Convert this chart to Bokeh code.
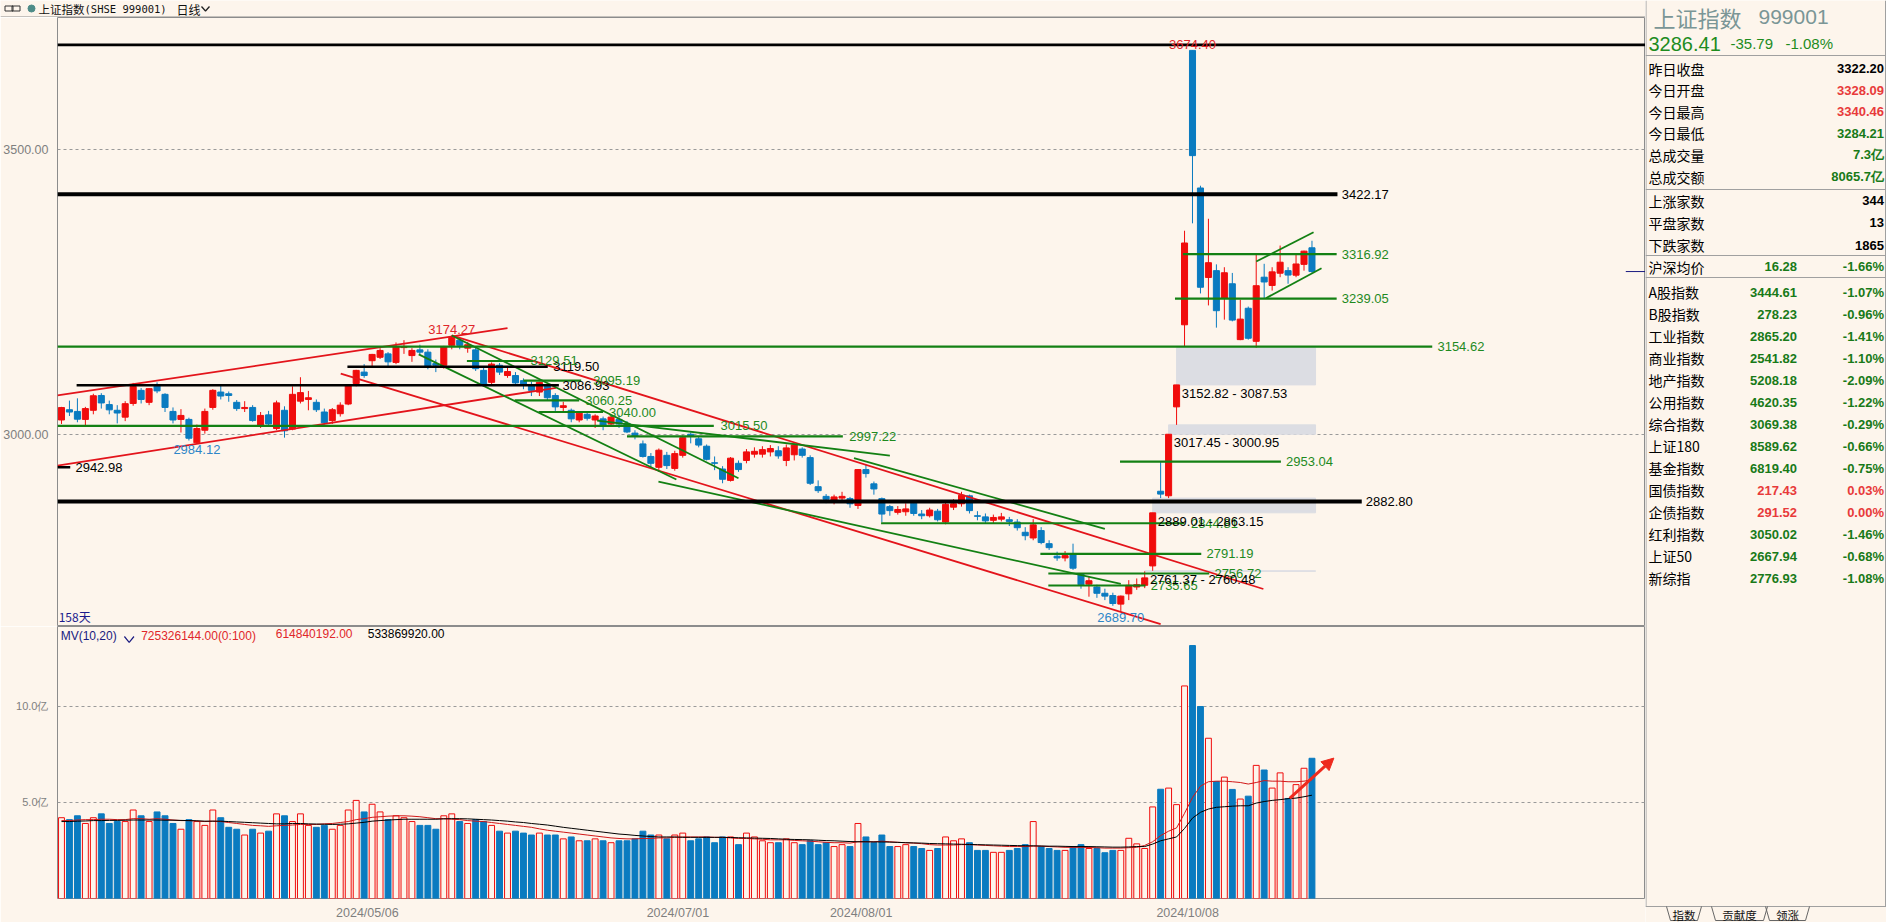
from bokeh.plotting import figure
from bokeh.layouts import row, column
from bokeh.models import Range1d, FixedTicker, ColumnDataSource, Arrow, NormalHead, PrintfTickFormatter
from bokeh.embed import file_html
from bokeh.resources import INLINE
from bokeh.core.properties import value

# ---------------- data ----------------
opens = [3026, 3044, 3041, 3027, 3043, 3069, 3053, 3043, 3031, 3055,
         3078, 3057, 3087, 3071, 3041, 3027, 3027, 2986, 3008, 3048,
         3075, 3072, 3057, 3046, 3048, 3016, 3035, 3011, 3043, 3010,
         3059, 3062, 3057, 3040, 3025, 3037, 3054, 3090, 3110, 3130,
         3136, 3142, 3127, 3153, 3139, 3149, 3145, 3125, 3122, 3157,
         3166, 3152, 3149, 3113, 3092, 3122, 3104, 3104, 3095, 3087,
         3075, 3086, 3069, 3048, 3043, 3026, 3036, 3026, 3028, 3019,
         3027, 3020, 3003, 2984, 2962, 2943, 2964, 2941, 2964, 3001,
         2993, 2980, 2951, 2940, 2920, 2950, 2955, 2966, 2966, 2970,
         2972, 2955, 2965, 2975, 2960, 2909, 2892, 2885, 2889, 2888,
         2876, 2939, 2914, 2888, 2874, 2864, 2865, 2880, 2861, 2858,
         2866, 2847, 2873, 2879, 2893, 2858, 2856, 2850, 2852, 2851,
         2847, 2829, 2819, 2832, 2809, 2787, 2784, 2791, 2756, 2738,
         2733, 2722, 2718, 2703, 2721, 2733, 2736, 2770, 2901, 2893,
         3049, 3193, 3674.40, 3433, 3276, 3288, 3240, 3265, 3167, 3222,
         3164, 3276.5, 3262, 3283.5, 3288, 3280, 3299, 3328.09]
highs = [3049, 3060, 3064, 3049, 3072, 3073, 3060, 3052, 3059, 3091,
         3082, 3082, 3092, 3073, 3048, 3045, 3030, 3018, 3046, 3080,
         3086, 3076, 3061, 3059, 3052, 3040, 3042, 3060, 3050, 3085,
         3101, 3077, 3062, 3046, 3047, 3057, 3089, 3114, 3124, 3142,
         3152, 3145, 3162, 3166, 3152, 3158, 3150, 3132, 3156, 3174.27,
         3170, 3163, 3154, 3118, 3127, 3126, 3118, 3110, 3099, 3093,
         3093, 3089, 3073, 3058, 3046, 3040, 3040, 3036, 3032, 3033,
         3035, 3024, 3008, 2990, 2968, 2976, 2970, 2972, 2999, 3004,
         2997, 2983, 2962, 2945, 2961, 2955, 2975, 2978, 2980, 2982,
         2980, 2983, 2985, 2978, 2964, 2920, 2896, 2895, 2900, 2891,
         2940, 2948, 2918, 2890, 2877, 2875, 2880, 2884, 2868, 2872,
         2870, 2881, 2887, 2900, 2895, 2866, 2862, 2860, 2863, 2856,
         2852, 2838, 2852, 2838, 2815, 2795, 2796, 2809, 2757, 2751,
         2737, 2730, 2723, 2718, 2745, 2748, 2760.48, 2863.15, 2952, 3000.95,
         3087.53, 3358, 3674.40, 3437, 3379, 3299, 3294, 3284, 3237, 3225,
         3316, 3300, 3294, 3332, 3294, 3317, 3323, 3340.46]
lows = [3019, 3033, 3022, 3016, 3036, 3046, 3036, 3020, 3024, 3051,
        3055, 3052, 3073, 3040, 3020, 3004, 2990, 2984.12, 3002, 3044,
        3062, 3058, 3042, 3040, 3023, 3012, 3014, 3008, 2995, 3008,
        3055, 3043, 3040, 3018, 3019, 3032, 3052, 3085, 3100, 3120,
        3133, 3120, 3124, 3142, 3128, 3141, 3115, 3110, 3116, 3150,
        3150, 3144, 3112, 3085, 3088, 3105, 3100, 3088, 3080, 3068,
        3068, 3060, 3042, 3040, 3022, 3022, 3025, 3012, 3008, 3014,
        3012, 3003, 2992, 2960, 2943, 2935, 2940, 2937, 2960, 2985,
        2978, 2955, 2938, 2915, 2918, 2935, 2950, 2960, 2960, 2962,
        2958, 2945, 2955, 2960, 2912, 2898, 2880, 2878, 2884, 2872,
        2870, 2925, 2895, 2847, 2858, 2860, 2858, 2858, 2852, 2855,
        2848, 2843, 2868, 2874, 2862, 2850, 2845, 2845, 2848, 2840,
        2832, 2815, 2815, 2808, 2798, 2779, 2778, 2763, 2730, 2716,
        2714, 2710, 2700, 2689.70, 2710, 2728, 2731, 2761.37, 2889.01, 2889,
        3017.45, 3154, 3371, 3248, 3227, 3188, 3202, 3199, 3166, 3167,
        3152.82, 3239, 3253, 3276.5, 3265, 3276.5, 3288, 3284.21]
closes = [3047.8, 3039.9, 3027.4, 3046.0, 3068.5, 3055.9, 3043.8, 3038.2, 3054.6, 3084.9,
          3062, 3081, 3077, 3048, 3026, 3034, 2994, 3011, 3041, 3078,
          3068, 3069, 3046, 3048, 3025, 3034, 3019, 3056, 3007, 3071,
          3074, 3065, 3044, 3021, 3044, 3052, 3088, 3113, 3104, 3141,
          3148, 3128, 3154, 3155, 3148, 3145, 3120, 3122, 3154, 3171,
          3157, 3158, 3116, 3089, 3124, 3110, 3111, 3091, 3087, 3078,
          3092, 3065, 3049, 3051, 3028, 3038, 3029, 3033, 3015, 3031,
          3019, 3005, 2998, 2962, 2950, 2973, 2946, 2967, 2995, 2997,
          2982, 2957, 2950, 2922, 2959, 2939, 2970, 2971, 2974, 2976,
          2963, 2977, 2982, 2964, 2915, 2902, 2887, 2891, 2892, 2879,
          2939, 2932, 2905, 2861, 2867, 2869, 2870, 2862, 2858, 2868,
          2851, 2878, 2879, 2894, 2867, 2857, 2849, 2855, 2856, 2848,
          2837, 2823, 2842, 2811, 2802, 2784, 2788, 2766, 2737, 2744,
          2722, 2717, 2704, 2717, 2736, 2737, 2749, 2863.13, 2896, 3000.95,
          3087.53, 3336.5, 3489.78, 3258.86, 3301.93, 3217.74, 3284.32, 3201.29, 3202.95, 3169.38,
          3261.56, 3268.11, 3285.87, 3302.80, 3280.26, 3299.70, 3322.20, 3286.41]
volumes = [4.2, 4.1, 4.3, 3.9, 4.2, 4.4, 3.9, 4.0, 4.0, 4.6,
           4.3, 4.0, 4.5, 4.3, 3.9, 3.6, 4.1, 4.0, 3.8,
           4.6, 4.2, 3.7, 3.6, 3.3, 3.6, 3.4, 3.5,
           4.4, 4.3, 4.0, 4.4, 3.8, 3.7, 3.8, 3.6, 3.8, 4.6, 5.1, 4.5,
           4.9, 4.5, 4.1, 4.3, 4.2, 4.0, 3.8, 3.8, 3.6, 4.3, 4.4, 4.0, 3.9,
           4.1, 4.0, 3.8, 3.5, 3.4, 3.5, 3.4, 3.3, 3.4, 3.3, 3.3, 3.1,
           3.2, 3.0, 3.0, 3.1, 3.0, 2.9, 3.0, 3.0, 3.1, 3.5, 3.3, 3.3, 3.1, 3.3,
           3.4, 3.0, 3.1, 3.2, 2.9, 3.2, 3.2, 2.8, 3.4, 3.2, 3.0, 2.9, 2.9, 3.1, 2.9, 2.8, 3.0, 2.8, 2.9, 2.7, 2.8, 2.7,
           3.9, 3.2, 2.9, 3.3, 2.7, 2.7, 2.8, 2.7, 2.6, 2.5, 2.6, 3.2, 3.0, 3.1, 2.9, 2.5, 2.5, 2.4, 2.4, 2.5, 2.6, 2.8, 4.0,
           2.7, 2.6, 2.5, 2.5, 2.7, 2.8, 2.6, 2.6, 2.38, 2.5,
           2.5, 3.13, 2.84, 2.6, 4.76, 5.68, 5.74, 4.88, 11.05, 13.15, 9.98, 8.33, 6.08, 6.31,
           5.67, 5.17, 5.32, 6.92, 6.68, 5.74, 6.53, 5.2, 5.92, 6.77, 7.29]
vol_ma10 = [4.05, 4.05, 4.08, 4.1, 4.1, 4.12, 4.12, 4.1, 4.1, 4.15,
            4.15, 4.12, 4.15, 4.12, 4.08, 4.05, 4.05, 4.02, 4.0, 4.02,
            4.0, 3.95, 3.9, 3.85, 3.8, 3.78, 3.75, 3.78, 3.8, 3.82,
            3.85, 3.85, 3.85, 3.88, 3.9, 3.95, 4.0, 4.1, 4.15, 4.22,
            4.25, 4.28, 4.3, 4.3, 4.28, 4.25, 4.2, 4.15, 4.15, 4.12,
            4.1, 4.05, 4.02, 4.0, 3.95, 3.9, 3.85, 3.8, 3.75, 3.7,
            3.62, 3.55, 3.5, 3.45, 3.4, 3.35, 3.3, 3.25, 3.2, 3.15,
            3.12, 3.1, 3.1, 3.12, 3.12, 3.15, 3.15, 3.18, 3.2, 3.2,
            3.2, 3.2, 3.18, 3.18, 3.15, 3.12, 3.12, 3.1, 3.08, 3.05,
            3.05, 3.05, 3.02, 3.0, 2.98, 2.95, 2.92, 2.9, 2.9, 2.88,
            2.95, 2.95, 2.95, 2.98, 2.95, 2.92, 2.9, 2.88, 2.85, 2.8,
            2.78, 2.78, 2.78, 2.8, 2.8, 2.78, 2.76, 2.74, 2.72, 2.7,
            2.7, 2.7, 2.72, 2.72, 2.7, 2.68, 2.66, 2.66, 2.66, 2.65,
            2.64, 2.62, 2.62, 2.62, 2.64, 2.66, 2.76,
            2.95, 3.27, 3.5, 3.67, 4.43, 5.25, 5.84, 6.07, 6.1, 6.1,
            6.07, 6.03, 5.95, 6.03, 6.13, 6.1, 6.1, 6.07, 6.07, 6.1, 6.17]
vol_ma20 = [4.0, 4.0, 4.02, 4.03, 4.05, 4.05, 4.06, 4.06, 4.07, 4.08,
            4.08, 4.08, 4.08, 4.07, 4.07, 4.06, 4.05, 4.04, 4.02, 4.02,
            4.02, 4.0, 3.98, 3.96, 3.94, 3.92, 3.9, 3.88, 3.88, 3.9,
            3.9, 3.88, 3.87, 3.86, 3.85, 3.86, 3.88, 3.92, 3.96, 4.02,
            4.05, 4.08, 4.1, 4.12, 4.12, 4.12, 4.12, 4.12, 4.14, 4.15,
            4.15, 4.14, 4.12, 4.1, 4.08, 4.05, 4.02, 3.98, 3.95, 3.9,
            3.86, 3.82, 3.76, 3.7, 3.65, 3.6, 3.55, 3.5, 3.45, 3.4,
            3.35, 3.32, 3.28, 3.25, 3.22, 3.2, 3.2, 3.2, 3.18, 3.18,
            3.18, 3.18, 3.18, 3.18, 3.17, 3.16, 3.15, 3.14, 3.13, 3.12,
            3.1, 3.08, 3.07, 3.06, 3.05, 3.03, 3.01, 3.0, 2.98, 2.96,
            2.95, 2.95, 2.94, 2.94, 2.93, 2.92, 2.9, 2.89, 2.88, 2.86,
            2.85, 2.84, 2.83, 2.82, 2.81, 2.8, 2.79, 2.78, 2.77, 2.76,
            2.75, 2.74, 2.74, 2.73, 2.72, 2.72, 2.71, 2.7, 2.7, 2.7,
            2.69, 2.68, 2.67, 2.67, 2.68, 2.7, 2.7,
            2.83, 3.0, 3.1, 3.2, 3.64, 4.18, 4.48, 4.65, 4.74, 4.77,
            4.8, 4.82, 4.82, 4.96, 5.04, 5.1, 5.14, 5.19, 5.22, 5.29, 5.37]

tick_index = [39, 78, 101, 142]
tick_labels = ["2024/05/06", "2024/07/01", "2024/08/01", "2024/10/08"]

# horizontal levels drawn on the chart (price, from bar, to bar)
level_price = [3684.0, 3422.17, 2882.80, 3119.50, 3086.93, 2942.98,
               3154.62, 3316.92, 3239.05, 3129.51, 3095.19, 3060.25, 3040.00,
               3015.50, 2997.22, 2953.04, 2844.81, 2791.19, 2756.72, 2735.65]
level_from = [-0.5, -0.5, -0.5, 35.9, 1.9, -0.5,
              -0.5, 140.8, 139.8, 50.9, 58.0, 56.9, 59.9,
              -0.5, 71.0, 132.9, 102.9, 122.9, 123.9, 123.9]
level_to = [199.0, 160.2, 163.25, 61.05, 62.45, 1.1,
            172.1, 160.1, 160.1, 59.25, 65.25, 65.0, 68.0,
            81.9, 98.1, 153.1, 141.0, 143.1, 144.1, 136.1]
level_kind = ["k3", "k4", "k4", "k2", "k2", "k3",
              "g", "g", "g", "g", "g", "g", "g",
              "g", "g", "g", "g", "g", "g", "g"]
level_label_at = [None, 160.75, 163.75, 61.75, 62.9, 1.75,
                  172.75, 160.75, 160.75, 58.9, 66.75, 65.75, 68.75,
                  82.75, 98.9, 153.75, 141.8, 143.75, 144.75, 136.75]

# unfilled gaps (upper, lower, first bar)
gap_upper = [3152.82, 3017.45, 2889.01, 2761.37]
gap_lower = [3087.53, 3000.95, 2863.15, 2760.48]
gap_from = [140, 139, 137, 136]

# trend lines (bar, price) -> (bar, price)
trend_x0 = [-0.5, -0.5, 49.0, 35.06, 49.0, 44.85, 67.25, 74.95, 99.5, 150.0, 151.2]
trend_y0 = [3069.0, 2946.0, 3174.27, 3107.5, 3174.27, 3141.2, 3025.0, 2918.0, 2959.0, 3304.0, 3239.6]
trend_x1 = [56.0, 62.1, 150.9, 138.0, 85.0, 77.2, 104.0, 133.0, 131.0, 157.2, 158.2]
trend_y1 = [3187.0, 3082.5, 2729.5, 2668.0, 2923.9, 2921.6, 2963.6, 2738.6, 2835.0, 3355.4, 3292.3]
trend_kind = ["r", "r", "r", "r", "g", "g", "g", "g", "g", "g", "g"]

# high / low markers (bar, price, above?)
mark_index = [142, 49, 17, 133]
mark_price = [3674.40, 3174.27, 2984.12, 2689.70]
mark_above = [True, True, False, False]

vol_legend = ["725326144.00(0:100)", "614840192.00", "533869920.00"]

header_name = "上证指数"
header_code = "(SHSE 999001)"
header_period = "日线"
quote_title = "上证指数"
quote_code = "999001"
quote_last = "3286.41"
quote_chg = "-35.79"
quote_pct = "-1.08%"
info_names = ["昨日收盘", "今日开盘", "今日最高", "今日最低", "总成交量", "总成交额"]
info_values = ["3322.20", "3328.09", "3340.46", "3284.21", "7.3亿", "8065.7亿"]
info_tone = ["k", "r", "r", "g", "g", "g"]
breadth_names = ["上涨家数", "平盘家数", "下跌家数"]
breadth_values = ["344", "13", "1865"]
avg_name = "沪深均价"
avg_value = "16.28"
avg_pct = "-1.66%"
index_names = ["A股指数", "B股指数", "工业指数", "商业指数", "地产指数", "公用指数", "综合指数",
               "上证180", "基金指数", "国债指数", "企债指数", "红利指数", "上证50", "新综指"]
index_values = ["3444.61", "278.23", "2865.20", "2541.82", "5208.18", "4620.35", "3069.38",
                "8589.62", "6819.40", "217.43", "291.52", "3050.02", "2667.94", "2776.93"]
index_pcts = ["-1.07%", "-0.96%", "-1.41%", "-1.10%", "-2.09%", "-1.22%", "-0.29%",
              "-0.66%", "-0.75%", "0.03%", "0.00%", "-1.46%", "-0.68%", "-1.08%"]
tab_names = ["指数", "贡献度", "领涨"]

# ---------------- styling ----------------
BG = "#FDF5EC"
RED = "#F00C0C"
BLUE = "#0A7BC0"
GREEN_LINE = "#138013"
GREEN_TXT = "#1E8A1E"
TREND_RED = "#E3141B"
GRID = "#9A9A9A"
FRAME = "#8C8C8C"
NUMFONT = "Liberation Sans"
CJK = "Noto Sans CJK SC"

AXIS_W = 50
LEFT_W = 1645
RIGHT_W = 241
HEAD_H = 17
PRICE_H = 609
VOL_AXIS_H = 16
VOL_H = 280 + VOL_AXIS_H
TOTAL_H = HEAD_H + PRICE_H + VOL_H
XR = (-0.5, 198.875)
P_LO, P_HI = 2663.7, 3732.1
V_HI = 14.14
DATE_SHIFT = 0.6   # date labels sit a little left of their bar


def txt(fig, xs, ys, texts, color, size, font=NUMFONT, align="left", baseline="middle",
        bold=False, y_off=0):
    fig.text(x=xs, y=ys, text=texts, text_color=color, text_font=value(font),
             text_font_size=value(size), text_align=align, text_baseline=baseline,
             text_font_style="bold" if bold else "normal", y_offset=y_off)


def bare(fig):
    fig.xgrid.visible = False
    fig.ygrid.visible = False
    fig.background_fill_color = BG
    fig.border_fill_color = BG
    fig.outline_line_color = None


n = len(closes)
xs = list(range(n))
up = [c > o for o, c in zip(opens, closes)]
col = [RED if u else BLUE for u in up]

# ---------------- header ----------------
h = figure(width=LEFT_W, height=HEAD_H, x_range=Range1d(0, LEFT_W), y_range=Range1d(HEAD_H, 0),
           output_backend="svg", toolbar_location=None, x_axis_location=None, y_axis_location=None,
           min_border=0, min_border_left=0, min_border_right=0, min_border_top=0, min_border_bottom=0)
bare(h)
h.rect(x=[8.5, 15.5], y=[8, 8], width=8, height=5, fill_color=None, line_color="#333333", line_width=1)
h.scatter(x=[31], y=[8], size=7, fill_color="#4E8C88", line_color="#4E8C88")
txt(h, [38], [8.5], [header_name], "#111111", "11.5px", font=CJK)
txt(h, [84], [8.5], [header_code], "#111111", "10.5px", font="DejaVu Sans Mono")
txt(h, [176], [8.5], [header_period], "#111111", "12px", font=CJK)
h.line(x=[201, 205, 209], y=[6, 10.5, 6], line_color="#222222", line_width=1.3)
h.line(x=[0, LEFT_W], y=[HEAD_H - 0.5, HEAD_H - 0.5], line_color=FRAME, line_width=1)

# ---------------- price panel ----------------
p = figure(width=LEFT_W, height=PRICE_H, x_range=Range1d(*XR), y_range=Range1d(P_LO, P_HI),
           output_backend="svg", toolbar_location=None, x_axis_location=None,
           min_border_left=AXIS_W, min_border_right=0, min_border_top=0, min_border_bottom=0)
p.background_fill_color = BG
p.border_fill_color = BG
p.outline_line_color = FRAME
p.xgrid.visible = False
p.yaxis.ticker = FixedTicker(ticks=[3000, 3500])
p.yaxis.formatter = PrintfTickFormatter(format="%.2f")
p.yaxis.axis_line_color = None
p.yaxis.major_tick_line_color = None
p.yaxis.minor_tick_line_color = None
p.yaxis.major_label_text_color = "#7F7F7F"
p.yaxis.major_label_text_font = NUMFONT
p.yaxis.major_label_text_font_size = "12.5px"
p.yaxis.major_label_standoff = 3
p.ygrid.grid_line_color = GRID
p.ygrid.grid_line_dash = "3 3"
p.ygrid.grid_line_width = 1

# gaps
p.quad(left=gap_from, right=[157.45] * len(gap_from), bottom=gap_lower, top=gap_upper,
       fill_color="#DCDDE3", line_color="#DCDDE3", line_width=1)

# candles
csrc = ColumnDataSource(dict(x=xs, o=opens, h=highs, l=lows, c=closes,
                             top=[max(a, b) for a, b in zip(opens, closes)],
                             bot=[min(a, b) for a, b in zip(opens, closes)], col=col))
p.segment(x0="x", y0="l", x1="x", y1="h", line_color="col", line_width=1, source=csrc)
p.vbar(x="x", width=0.76, top="top", bottom="bot", fill_color="col", line_color="col", source=csrc)

# trend lines
tcol = [TREND_RED if k == "r" else GREEN_LINE for k in trend_kind]
p.segment(x0=trend_x0, y0=trend_y0, x1=trend_x1, y1=trend_y1, line_color=tcol, line_width=1.8)

# level lines
lw = {"k4": 4, "k3": 2.6, "k2": 2.4, "g": 2.2}
lc = {"k4": "#000000", "k3": "#000000", "k2": "#000000", "g": GREEN_LINE}
p.segment(x0=level_from, y0=level_price, x1=level_to, y1=level_price,
          line_color=[lc[k] for k in level_kind], line_width=[lw[k] for k in level_kind])
lab_x, lab_y, lab_t, lab_c = [], [], [], []
for pr, lx, k in zip(level_price, level_label_at, level_kind):
    if lx is None:
        continue
    lab_x.append(lx)
    lab_y.append(pr)
    lab_t.append("%.2f" % pr)
    lab_c.append("#000000" if k != "g" else GREEN_TXT)
p.text(x=lab_x, y=lab_y, text=lab_t, text_color=lab_c, text_font=value(NUMFONT),
       text_font_size=value("13px"), text_align="left", text_baseline="middle")

# gap labels
txt(p, [g + 0.65 for g in gap_from], gap_lower,
    ["%.2f - %.2f" % (a, b) for a, b in zip(gap_upper, gap_lower)],
    "#000000", "13px", baseline="top", y_off=1)

# high / low markers
for i, pr, ab in zip(mark_index, mark_price, mark_above):
    txt(p, [i], [pr], ["%.2f" % pr], "#E0262A" if ab else "#2E86C8", "13px", align="center",
        baseline="bottom" if ab else "top", y_off=-1 if ab else 1)

# last price marker at right edge
p.segment(x0=[196.4], y0=[closes[-1]], x1=[XR[1]], y1=[closes[-1]], line_color="#1A1A80", line_width=1)

txt(p, [-0.35], [P_LO], ["158天"], "#1A1A8C", "12px", font=CJK, baseline="bottom", y_off=-2)

# ---------------- volume panel ----------------
v = figure(width=LEFT_W, height=VOL_H, x_range=p.x_range, y_range=Range1d(0, V_HI),
           output_backend="svg", toolbar_location=None,
           min_border_left=AXIS_W, min_border_right=0, min_border_top=0, min_border_bottom=VOL_AXIS_H)
v.background_fill_color = BG
v.border_fill_color = BG
v.outline_line_color = FRAME
v.xgrid.visible = False
v.yaxis.ticker = FixedTicker(ticks=[5, 10])
v.yaxis.major_label_overrides = {5: "5.0亿", 10: "10.0亿"}
date_ticks = [i - DATE_SHIFT for i in tick_index]
v.xaxis.ticker = FixedTicker(ticks=date_ticks)
v.xaxis.major_label_overrides = {t: lbl for t, lbl in zip(date_ticks, tick_labels)}
for ax in (v.xaxis, v.yaxis):
    ax.axis_line_color = None
    ax.major_tick_line_color = None
    ax.minor_tick_line_color = None
    ax.major_label_text_color = "#7F7F7F"
    ax.major_label_text_font = NUMFONT
    ax.major_label_standoff = 3
v.yaxis.major_label_text_font_size = "11px"
v.xaxis.major_label_text_font_size = "12.5px"
v.xaxis.major_label_standoff = 1
v.ygrid.grid_line_color = GRID
v.ygrid.grid_line_dash = "3 3"

vsrc = ColumnDataSource(dict(x=xs, vol=volumes, fill=[BG if u else BLUE for u in up], col=col))
v.vbar(x="x", width=0.74, top="vol", bottom=0, fill_color="fill", line_color="col", line_width=1, source=vsrc)
v.line(x=xs, y=vol_ma10, line_color="#D01818", line_width=1)
v.line(x=xs, y=vol_ma20, line_color="#000000", line_width=1)
v.add_layout(Arrow(end=NormalHead(size=12, fill_color="#EE2A1E", line_color="#EE2A1E"),
                   x_start=154.2, y_start=5.2, x_end=159.75, y_end=7.3,
                   line_color="#EE2A1E", line_width=3))

txt(v, [-0.1], [V_HI], ["MV(10,20)"], "#1A1A80", "12px", baseline="top", y_off=2)
v.line(x=[7.9, 8.5, 9.1], y=[13.62, 13.32, 13.62], line_color="#1A1A80", line_width=1.2)
txt(v, [10.0, 26.9, 38.45], [V_HI] * 3, vol_legend, ["#E0262A", "#E0262A", "#000000"], "12px",
    baseline="top", y_off=2)

# ---------------- right panel ----------------
r = figure(width=RIGHT_W, height=TOTAL_H, x_range=Range1d(0, RIGHT_W),
           y_range=Range1d(TOTAL_H, 0), output_backend="svg", toolbar_location=None,
           x_axis_location=None, y_axis_location=None,
           min_border=0, min_border_left=0, min_border_right=0, min_border_top=0, min_border_bottom=0)
bare(r)
RB = TOTAL_H - VOL_AXIS_H  # bottom line of panel
RX = RIGHT_W - 2.5          # right edge of value columns
r.segment(x0=[0.5, RIGHT_W - 1, 0, 0, 0, 0, 0], y0=[0, 0, 55, 189, 255, 277, RB],
          x1=[0.5, RIGHT_W - 1, RIGHT_W, RIGHT_W, RIGHT_W, RIGHT_W, RIGHT_W],
          y1=[RB, RB, 55, 189, 255, 277, RB], line_color="#A0A0A0", line_width=1)
txt(r, [8], [16], [quote_title], "#7A9696", "22px", font=CJK)
txt(r, [113], [16], [quote_code], "#7A9696", "21px")
txt(r, [3], [43], [quote_last], "#1E8C1E", "20px")
txt(r, [85], [43], [quote_chg], "#1E8C1E", "15px")
txt(r, [140], [43], [quote_pct], "#1E8C1E", "15px")

tone = {"k": "#000000", "r": "#E83A3A", "g": "#187A18"}
y1 = [68 + 21.6 * i for i in range(len(info_names))]
txt(r, [3] * len(info_names), y1, info_names, "#000000", "14px", font=CJK)
r.text(x=[RX] * len(info_values), y=y1, text=info_values, text_color=[tone[t] for t in info_tone],
       text_font=value(NUMFONT), text_font_size=value("13px"), text_font_style="bold",
       text_align="right", text_baseline="middle")
y2 = [200 + 22.3 * i for i in range(len(breadth_names))]
txt(r, [3] * 3, y2, breadth_names, "#000000", "14px", font=CJK)
txt(r, [RX] * 3, y2, breadth_values, "#000000", "13px", align="right", bold=True)
txt(r, [3], [266], [avg_name], "#000000", "14px", font=CJK)
txt(r, [151.5], [266], [avg_value], "#187A18", "13px", align="right", bold=True)
txt(r, [RX], [266], [avg_pct], "#187A18", "13px", align="right", bold=True)

y3 = [291.7 + 22.0 * i for i in range(len(index_names))]
icol = ["#187A18" if s.startswith("-") else "#E83A3A" for s in index_pcts]
txt(r, [3] * len(index_names), y3, index_names, "#000000", "14px", font=CJK)
r.text(x=[151.5] * len(index_values), y=y3, text=index_values, text_color=icol,
       text_font=value(NUMFONT), text_font_size=value("13px"), text_font_style="bold",
       text_align="right", text_baseline="middle")
r.text(x=[RX] * len(index_pcts), y=y3, text=index_pcts, text_color=icol,
       text_font=value(NUMFONT), text_font_size=value("13px"), text_font_style="bold",
       text_align="right", text_baseline="middle")

# tabs
tab_l = [25, 70, 124]
tab_r = [52, 118, 160]
for a, b in zip(tab_l, tab_r):
    r.line(x=[a - 4, a, b, b + 4], y=[RB, RB + 14, RB + 14, RB], line_color="#666666", line_width=1)
txt(r, [(a + b) / 2 for a, b in zip(tab_l, tab_r)], [RB + 8] * 3, tab_names, "#111111", "11.5px",
    font=CJK, align="center")

layout = row(column(h, column(p, v)), r)
open("out.html", "w").write(file_html(layout, INLINE))
